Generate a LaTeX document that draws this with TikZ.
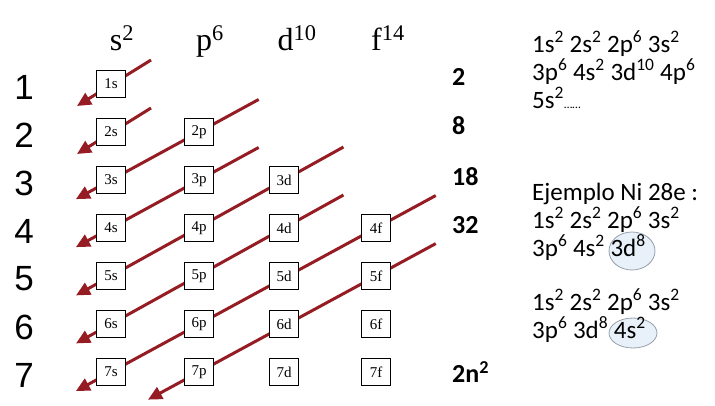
\documentclass[tikz,border=0pt]{standalone}
\usepackage{fontspec}
\setmainfont{Liberation Serif}
\newfontfamily\arialfont{Liberation Sans}
\newfontfamily\calfont{Carlito}
\usetikzlibrary{positioning,arrows.meta,calc,backgrounds,shapes.geometric}
\definecolor{arrowred}{RGB}{150,28,36}
\definecolor{ringfill}{RGB}{232,241,249}
\definecolor{ringline}{RGB}{150,160,172}

\begin{document}
\begin{tikzpicture}[x=1pt,y=-1pt,
    orb/.style={draw,line width=1.4pt,fill=white,minimum width=29pt,minimum height=27pt,inner sep=0pt,font=\fontsize{15}{15}\selectfont},
    rownum/.style={font=\arialfont\fontsize{35}{35}\selectfont},
    colhead/.style={anchor=base,font=\fontsize{32}{32}\selectfont},
    shellsum/.style={anchor=west,inner sep=0pt,font=\calfont\bfseries\fontsize{26}{26}\selectfont},
    txt/.style={anchor=base west,inner sep=0pt,font=\calfont\fontsize{25}{25}\selectfont},
    ring/.style={ellipse,draw=ringline,fill=ringfill,line width=0.8pt,inner sep=0pt},
    diag/.style={draw=arrowred,line width=3pt,-{Triangle[length=14pt,width=13pt]}}]
\useasboundingbox (0,0) rectangle (715,405);

% headers
\node[colhead] (hs) at (122,50) {s\textsuperscript{2}};
\node[colhead] (hp) at (210,50) {p\textsuperscript{6}};
\node[colhead] (hd) at (297,50) {d\textsuperscript{10}};
\node[colhead] (hf) at (388,50) {f\textsuperscript{14}};

% row numbers
\foreach \n in {1,...,7}
  \node[rownum] (r\n) at (24,{87+48*(\n-1)}) {\n};

% orbital boxes
\foreach \l/\x/\m in {s/111/1,p/199/2,d/284/3,f/376/4}
  \foreach \n in {\m,...,7}
    \node[orb] (\n\l) at (\x,{84+48*(\n-1)}) {\n\l};

% diagonal arrows behind the boxes
\begin{scope}[on background layer]
  \draw[diag] ($(1s)+(40,-24)$) -- ($(1s)+(-34,22)$);
  \draw[diag] ($(2s)+(40,-24)$) -- ($(2s)+(-34,22)$);
  \foreach \a/\b/\e in {2p/3s/40pt,3p/4s/40pt,3d/5s/40pt,4d/6s/40pt,4f/7s/40pt,5f/7p/58pt}
    \draw[diag] ($(\a)!-68pt!(\b)$) -- ($(\b)!-\e!(\a)$);
\end{scope}

% electrons per shell
\node[shellsum] (c1) at (452,77) {2};
\node[shellsum] (c2) at (452,126) {8};
\node[shellsum] (c3) at (452,177) {18};
\node[shellsum] (c4) at (452,225) {32};
\node[shellsum] (c7) at (452,372) {2n\textsuperscript{2}};

% rings
\node[ring,minimum width=46pt,minimum height=38pt] (ring1) at (632,251) {};
\node[ring,minimum width=48pt,minimum height=30pt] (ring2) at (633,333) {};

% configurations
\node[txt] (t1) at (532,52) {1s\textsuperscript{2} 2s\textsuperscript{2} 2p\textsuperscript{6} 3s\textsuperscript{2}};
\node[txt] (t2) at (532,80) {3p\textsuperscript{6} 4s\textsuperscript{2} 3d\textsuperscript{10} 4p\textsuperscript{6}};
\node[txt] (t3) at (532,108) {5s\textsuperscript{2}{\fontsize{12}{12}\selectfont\ldots\ldots}};
\node[txt] (t4) at (532,200) {Ejemplo Ni 28e :};
\node[txt] (t5) at (532,228) {1s\textsuperscript{2} 2s\textsuperscript{2} 2p\textsuperscript{6} 3s\textsuperscript{2}};
\node[txt] (t6) at (532,256) {3p\textsuperscript{6} 4s\textsuperscript{2} 3d\textsuperscript{8}};
\node[txt] (t7) at (532,310) {1s\textsuperscript{2} 2s\textsuperscript{2} 2p\textsuperscript{6} 3s\textsuperscript{2}};
\node[txt] (t8) at (532,338) {3p\textsuperscript{6} 3d\textsuperscript{8} 4s\textsuperscript{2}};
\end{tikzpicture}
\end{document}
